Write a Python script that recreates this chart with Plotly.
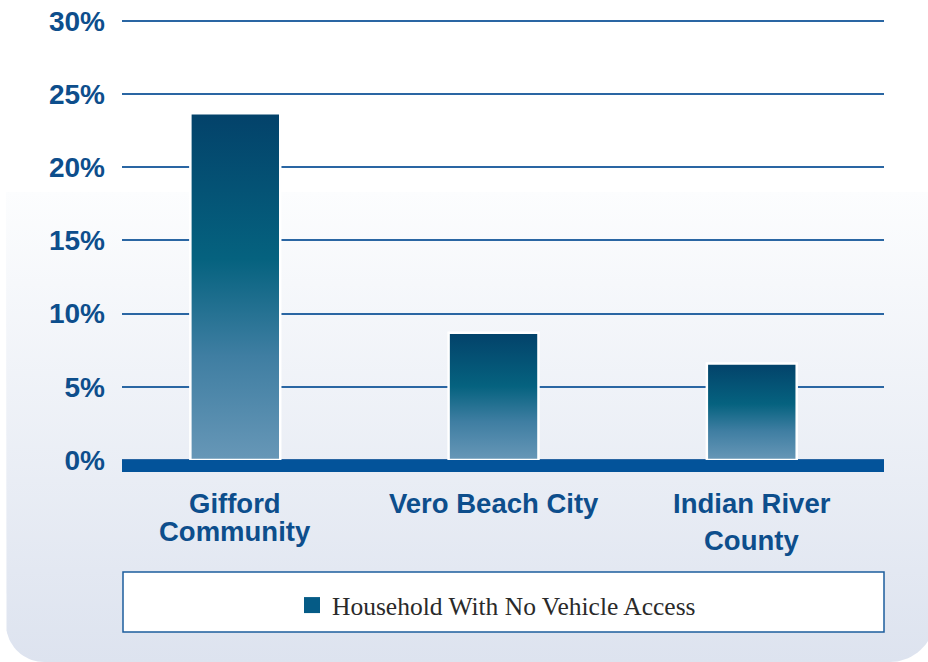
import numpy as np
import plotly.graph_objects as go

# ---------------- data ----------------
categories = ["Gifford Community", "Vero Beach City", "Indian River County"]
category_lines = [["Gifford", "Community"], ["Vero Beach City"], ["Indian River", "County"]]
no_vehicle_pct = [23.7, 8.7, 6.6]
y_ticks = [0, 5, 10, 15, 20, 25, 30]
y_tick_labels = ["0%", "5%", "10%", "15%", "20%", "25%", "30%"]
series_name = "Household With No Vehicle Access"

# ---------------- style / geometry ----------------
W, H = 928, 662
PL, PR, PT, PB = 122, 884, 19.5, 472.4      # plot area in pixels
X_RANGE = [-0.4387, 2.512]
Y_RANGE = [-0.85, 30.1]
BAR_HALF = 0.174
TEXT_BLUE = "#0d4e8c"
GRID_BLUE = "#2a66a3"
BASE_BLUE = "#03539a"
LEGEND_SQ = "#055b86"
BAR_SCALE = [[0, "#6797b7"], [0.3, "#3f7ea2"], [0.58, "#05627f"], [1, "#03426a"]]
LINE_GAP = [28, 0, 37]     # px between label lines per category
LABEL_TOP = 503            # px centre of first label line


def px_to_paper_y(py):
    return (H - py) / H


fig = go.Figure()

# ---- background card (pixel coordinate subplot xy) ----
cx0, cx1, cy_top, cy_bot = 6, 935, 192, 662
r1, r2 = 38, 45
t1 = np.linspace(np.pi, 1.5 * np.pi, 20)
t2 = np.linspace(1.5 * np.pi, 2 * np.pi, 20)
xs = [cx0] + list(cx0 + r1 + r1 * np.cos(t1)) + list(cx1 - r2 + r2 * np.cos(t2)) + [cx1, cx0]
ys = [H - cy_top] + list((H - cy_bot) + r1 + r1 * np.sin(t1)) + \
     list((H - cy_bot) + r2 + r2 * np.sin(t2)) + [H - cy_top, H - cy_top]
fig.add_trace(go.Scatter(
    x=xs, y=ys, mode="lines", fill="toself",
    line=dict(width=0, color="rgba(0,0,0,0)"),
    fillgradient=dict(type="vertical", colorscale=[[0, "#dde3ef"], [1, "#fcfdfe"]]),
    hoverinfo="skip", showlegend=False, xaxis="x", yaxis="y",
))

# ---- bars with vertical gradient ----
for i, v in enumerate(no_vehicle_pct):
    fig.add_trace(go.Scatter(
        x=[i - BAR_HALF, i - BAR_HALF, i + BAR_HALF, i + BAR_HALF, i - BAR_HALF],
        y=[0, v, v, 0, 0],
        mode="lines", fill="toself",
        line=dict(color="white", width=2.5),
        fillgradient=dict(type="vertical", colorscale=BAR_SCALE),
        name=categories[i], showlegend=False,
        hovertemplate=f"{categories[i]}: {v}%<extra></extra>",
        xaxis="x2", yaxis="y2",
    ))

# legend entry
fig.add_trace(go.Scatter(
    x=[None], y=[None], mode="markers",
    marker=dict(symbol="square", size=16, color=LEGEND_SQ, line=dict(width=0)),
    name=series_name, showlegend=True, xaxis="x2", yaxis="y2",
))

# ---- category labels ----
annotations = []
for i, lines in enumerate(category_lines):
    for j, line in enumerate(lines):
        annotations.append(dict(
            x=i, xref="x2", y=px_to_paper_y(LABEL_TOP + j * LINE_GAP[i]), yref="paper",
            text=line, showarrow=False, xanchor="center", yanchor="middle",
            font=dict(family="Liberation Sans, Arial, sans-serif", size=27.5,
                      color=TEXT_BLUE, weight="bold"),
        ))

shapes = [
    dict(type="rect", xref="x2 domain", x0=0, x1=1, yref="y2", y0=-0.82, y1=0,
         fillcolor=BASE_BLUE, line=dict(width=0), layer="above"),
    dict(type="rect", xref="paper", yref="paper",
         x0=123 / W, x1=884 / W, y0=px_to_paper_y(632), y1=px_to_paper_y(572),
         fillcolor="white", line=dict(color="#1d5d9d", width=1.5), layer="above"),
]

fig.update_layout(
    width=W, height=H,
    margin=dict(l=0, r=0, t=0, b=0, autoexpand=False),
    paper_bgcolor="white", plot_bgcolor="rgba(0,0,0,0)",
    xaxis=dict(domain=[0, 1], range=[0, W], visible=False, fixedrange=True),
    yaxis=dict(domain=[0, 1], range=[0, H], visible=False, fixedrange=True),
    xaxis2=dict(domain=[PL / W, PR / W], range=X_RANGE, anchor="y2",
                showgrid=False, zeroline=False, showticklabels=False,
                showline=False, ticks="", fixedrange=True),
    yaxis2=dict(domain=[px_to_paper_y(PB), px_to_paper_y(PT)], range=Y_RANGE, anchor="x2",
                tickvals=y_ticks, ticktext=y_tick_labels,
                showgrid=True, gridcolor=GRID_BLUE, gridwidth=1.5,
                zeroline=False, showline=False, ticks="",
                ticklabelstandoff=16,
                tickfont=dict(family="Liberation Sans, Arial, sans-serif", size=28,
                              color=TEXT_BLUE, weight="bold"),
                fixedrange=True),
    showlegend=True,
    legend=dict(x=292 / W, xanchor="left", y=px_to_paper_y(605.5), yanchor="middle",
                bgcolor="rgba(0,0,0,0)", borderwidth=0,
                font=dict(family="Liberation Serif, Times New Roman, serif", size=25.5,
                          color="#2a2a2a")),
    annotations=annotations,
    shapes=shapes,
)

fig.write_html("out.html",
               config={"displayModeBar": False},
               post_script="document.body.style.margin='0';document.body.style.overflow='hidden';")
